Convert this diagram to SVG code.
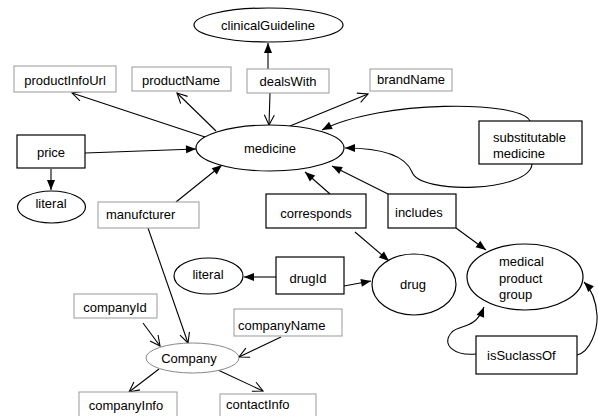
<svg xmlns="http://www.w3.org/2000/svg" width="598" height="416" viewBox="0 0 598 416">
<style>
text{font-family:"Liberation Sans",Arial,sans-serif;font-size:13px;fill:#000}
.c{text-anchor:middle}
.bk{fill:#fff;stroke:#000;stroke-width:1.2}
.gy{fill:#fff;stroke:#999;stroke-width:1}
.el{fill:#fff;stroke:#000;stroke-width:1.2}
.elg{fill:#fff;stroke:#888;stroke-width:1}
.f{fill:none;stroke:#000;stroke-width:1.1;marker-end:url(#fa)}
.o{fill:none;stroke:#000;stroke-width:1.1;marker-end:url(#oa)}
</style>
<defs>
<marker id="fa" markerUnits="userSpaceOnUse" markerWidth="12" markerHeight="12" refX="10" refY="5" orient="auto" overflow="visible">
<path d="M0,1 L10,5 L0,9 z" fill="#000"/>
</marker>
<marker id="oa" markerUnits="userSpaceOnUse" markerWidth="12" markerHeight="12" refX="10" refY="5" orient="auto" overflow="visible">
<path d="M0,0 L10,5 L0,10" fill="none" stroke="#000" stroke-width="1.1"/>
</marker>
</defs>
<rect width="598" height="416" fill="#fff"/>
<g id="connectors">
<line class="f" x1="268" y1="69" x2="268" y2="43"/>
<line class="o" x1="270" y1="93" x2="269" y2="125"/>
<line class="o" x1="205" y1="137" x2="72" y2="93"/>
<line class="o" x1="216" y1="131" x2="177" y2="93"/>
<line class="o" x1="290" y1="126" x2="368" y2="94"/>
<line class="f" x1="85" y1="153" x2="196" y2="149"/>
<line class="f" x1="51" y1="169" x2="51" y2="190"/>
<line class="f" x1="176" y1="202" x2="222" y2="165"/>
<line class="o" x1="148" y1="228" x2="188" y2="343"/>
<path class="f" d="M530,121 C520,100 380,100 322,130"/>
<path class="f" d="M532,164 C530,192 420,195 412,172 C405,155 380,148 345,148"/>
<line class="f" x1="330" y1="194" x2="305" y2="172"/>
<line class="f" x1="388" y1="194" x2="332" y2="166"/>
<line class="f" x1="355" y1="232" x2="389" y2="261"/>
<line class="f" x1="276" y1="277" x2="244" y2="277"/>
<line class="f" x1="344" y1="286" x2="371" y2="281"/>
<line class="f" x1="456" y1="228" x2="486" y2="250"/>
<path class="f" d="M476,354 C455,356 440,345 452,332 C460,324 475,330 484,307"/>
<path class="f" d="M577,355 C590,352 598,330 597,315 C596,300 592,290 584,282"/>
<line class="o" x1="143" y1="323" x2="160" y2="346"/>
<line class="o" x1="281" y1="337" x2="239" y2="357"/>
<line class="o" x1="159" y1="369" x2="129" y2="392"/>
<line class="o" x1="218" y1="370" x2="263" y2="391"/>
</g>
<g id="clinicalGuideline"><ellipse class="el" cx="268.5" cy="25" rx="74.5" ry="17"/><text class="c" x="268" y="30">clinicalGuideline</text></g>
<g id="productInfoUrl"><rect class="gy" x="14" y="66" width="102" height="26"/><text class="c" x="65" y="85">productInfoUrl</text></g>
<g id="productName"><rect class="gy" x="132" y="67" width="99" height="24"/><text class="c" x="181" y="85">productName</text></g>
<g id="dealsWith"><rect class="gy" x="247" y="69" width="82" height="24"/><text class="c" x="288" y="86">dealsWith</text></g>
<g id="brandName"><rect class="gy" x="370" y="69" width="82" height="22"/><text class="c" x="411" y="84">brandName</text></g>
<g id="medicine"><ellipse class="el" cx="270" cy="148" rx="74" ry="23"/><text class="c" x="270" y="153">medicine</text></g>
<g id="price"><rect class="bk" x="17" y="135" width="68" height="33"/><text class="c" x="51" y="157">price</text></g>
<g id="literal1"><ellipse class="el" cx="51.5" cy="207" rx="34" ry="16"/><text class="c" x="51" y="208">literal</text></g>
<g id="manufcturer"><rect class="gy" x="98" y="202" width="101" height="26"/><text x="106" y="219">manufcturer</text></g>
<g id="substitutableMedicine"><rect class="bk" x="479" y="121" width="103" height="43"/><text x="493" y="142">substitutable</text><text x="493" y="158">medicine</text></g>
<g id="corresponds"><rect class="bk" x="266" y="194" width="100" height="34"/><text class="c" x="316" y="218">corresponds</text></g>
<g id="includes"><rect class="bk" x="388" y="194" width="68" height="34"/><text x="395" y="217">includes</text></g>
<g id="drugId"><rect class="bk" x="276" y="257" width="68" height="37"/><text class="c" x="308" y="283">drugId</text></g>
<g id="literal2"><ellipse class="el" cx="208.5" cy="276" rx="34.5" ry="18"/><text class="c" x="208" y="279">literal</text></g>
<g id="drug"><ellipse class="el" cx="414" cy="284.5" rx="42" ry="30.5"/><text class="c" x="413" y="289">drug</text></g>
<g id="medicalProductGroup"><ellipse class="el" cx="525" cy="277" rx="58" ry="33"/><text x="499" y="266">medical</text><text x="499" y="283">product</text><text x="499" y="299">group</text></g>
<g id="isSuclassOf"><rect class="bk" x="476" y="336" width="101" height="38"/><text x="487" y="360">isSuclassOf</text></g>
<g id="companyId"><rect class="gy" x="74" y="294" width="83" height="24"/><text class="c" x="115" y="312">companyId</text></g>
<g id="companyName"><rect class="gy" x="234" y="309" width="108" height="27"/><text x="238" y="330">companyName</text></g>
<g id="Company"><ellipse class="elg" cx="192.5" cy="358" rx="46.5" ry="15"/><text class="c" x="189" y="363">Company</text></g>
<g id="companyInfo"><rect class="gy" x="79" y="392" width="98" height="30"/><text class="c" x="126" y="410">companyInfo</text></g>
<g id="contactInfo"><rect class="gy" x="220" y="394" width="96" height="28"/><text x="226" y="409">contactInfo</text></g>
</svg>
